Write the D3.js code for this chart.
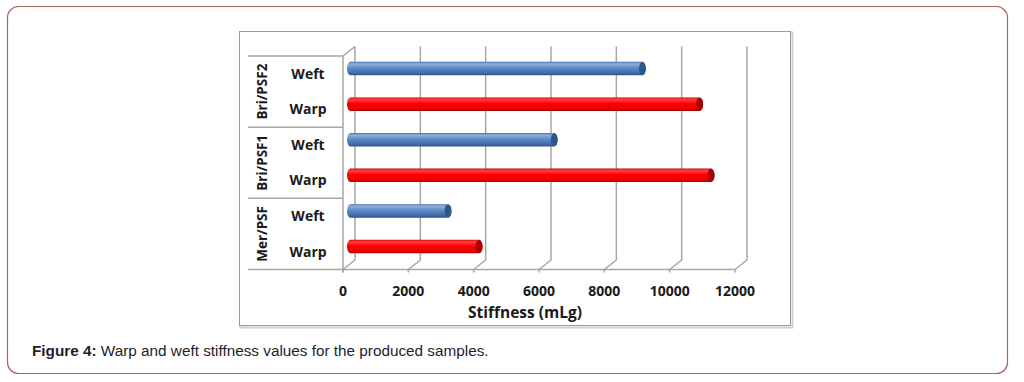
<!DOCTYPE html>
<html><head><meta charset="utf-8">
<script src="https://cdn.jsdelivr.net/npm/d3@7"></script>
<style>body{margin:0;background:#fff}svg{display:block}</style>
</head><body>
<svg id="c" width="1024" height="382"></svg>
<script>
const groups = ["Bri/PSF2", "Bri/PSF1", "Mer/PSF"];
const subs = ["Weft", "Warp"];
const weftValues = [9150, 6450, 3200];
const warpValues = [10900, 11250, 4150];
const xTicks = [0, 2000, 4000, 6000, 8000, 10000, 12000];
const xTitle = "Stiffness (mLg)";

(function () {
const rows = [];
groups.forEach((g, i) => {
  rows.push({group: g, sub: "Weft", value: weftValues[i], key: g + "|Weft"});
  rows.push({group: g, sub: "Warp", value: warpValues[i], key: g + "|Warp"});
});

const svg = d3.select("#c");
const defs = svg.append("defs");
function grad(id, stops) {
  const lg = defs.append("linearGradient").attr("id", id).attr("x1", 0).attr("y1", 0).attr("x2", 0).attr("y2", 1);
  stops.forEach(s => lg.append("stop").attr("offset", s[0]).attr("stop-color", s[1]));
}
grad("gBlue", [[0, "#3f6ea8"], [0.15, "#8fb2e0"], [0.45, "#5b8cc8"], [0.8, "#426fa9"], [1, "#2c5284"]]);
grad("gRed", [[0, "#d00000"], [0.15, "#ff4040"], [0.45, "#ff0000"], [0.8, "#f00000"], [1, "#a80000"]]);
const capCol = {Weft: "#2e5789", Warp: "#a80000"};
const fillCol = {Weft: "url(#gBlue)", Warp: "url(#gRed)"};

// outer frame
svg.append("rect").attr("x", 7.5).attr("y", 6.5).attr("width", 1000).attr("height", 367)
  .attr("rx", 11).attr("fill", "none").attr("stroke", "#a8665a").attr("stroke-width", 1.2);

// chart box
svg.append("rect").attr("x", 240.5).attr("y", 32.5).attr("width", 552).attr("height", 295)
  .attr("fill", "none").attr("stroke", "#d0d0d0").attr("stroke-width", 2);
svg.append("rect").attr("x", 239.5).attr("y", 31.5).attr("width", 551).attr("height", 294)
  .attr("fill", "#fff").attr("stroke", "#9a9a9a").attr("stroke-width", 1);

const dx = 12, dy = -9.5;
const yTop = 56, yBottom = 269.5;
const xFront = d3.scaleLinear().domain([0, 12000]).range([343, 735]);
const xBack = v => xFront(v) + dx;
const xMid = v => xFront(v) + dx / 2;
const y = d3.scaleBand().domain(rows.map(r => r.key)).range([yTop, yBottom]);

const grid = svg.append("g").attr("stroke", "#a6a6a6").attr("stroke-width", 1.5).attr("fill", "none");
xTicks.forEach(t => {
  grid.append("path").attr("d", `M${xBack(t)},${yTop + dy} V${yBottom + dy} L${xFront(t)},${yBottom} v3`);
});
grid.append("path").attr("d", `M${xFront(0)},${yTop} L${xBack(0)},${yTop + dy}`);
grid.append("path").attr("d", `M${xFront(0)},${yTop} V${yBottom + 3}`);
const axisLeft = 248;
grid.append("path").attr("d", `M${axisLeft},${yBottom} H${xFront(12000)}`);
grid.append("path").attr("d", `M${axisLeft},${yTop} H${xFront(0)}`);
groups.forEach((g, i) => {
  if (i === 0) return;
  const yy = y(g + "|Weft");
  grid.append("path").attr("d", `M${axisLeft},${yy} H${xFront(0)}`);
});

// bars
const bh = 13.5, r = 3.5;
const bars = svg.append("g");
rows.forEach(d => {
  const cy = y(d.key) + y.bandwidth() / 2 + dy / 2 - 0.5;
  const x0 = xMid(0) - 2, x1 = xMid(d.value) - 2;
  bars.append("rect").attr("x", x0).attr("y", cy - bh / 2).attr("width", x1 - x0).attr("height", bh)
    .attr("rx", r).attr("ry", bh / 2).attr("fill", fillCol[d.sub]);
  bars.append("ellipse").attr("cx", x1 - r).attr("cy", cy).attr("rx", r).attr("ry", bh / 2 - 0.3)
    .attr("fill", capCol[d.sub]);
});

const font = "'Open Sans', 'Noto Sans', sans-serif";
svg.append("g").selectAll("text").data(rows).join("text")
  .attr("x", 308).attr("y", d => y(d.key) + y.bandwidth() / 2)
  .attr("dy", "0.35em").attr("text-anchor", "middle")
  .attr("font-family", font).attr("font-weight", "bold").attr("font-size", 14).attr("fill", "#1a1a1a")
  .text(d => d.sub);
svg.append("g").selectAll("text").data(groups).join("text")
  .attr("transform", g => `translate(262,${y(g + "|Weft") + y.bandwidth()}) rotate(-90)`)
  .attr("dy", "0.35em").attr("text-anchor", "middle")
  .attr("font-family", font).attr("font-weight", "bold").attr("font-size", 13.5).attr("fill", "#1a1a1a")
  .text(g => g);

svg.append("g").selectAll("text").data(xTicks).join("text")
  .attr("x", t => xFront(t)).attr("y", 291).attr("dy", "0.35em").attr("text-anchor", "middle")
  .attr("font-family", font).attr("font-weight", "bold").attr("font-size", 14).attr("fill", "#1a1a1a")
  .text(t => t);
svg.append("text").attr("x", 525).attr("y", 313).attr("dy", "0.35em").attr("text-anchor", "middle")
  .attr("font-family", font).attr("font-weight", "bold").attr("font-size", 15.5).attr("fill", "#1a1a1a")
  .text(xTitle);

const cap = svg.append("text").attr("x", 32).attr("y", 356)
  .attr("font-family", "'Liberation Sans', Arial, sans-serif").attr("font-size", 15.3).attr("fill", "#1e1e2a");
cap.append("tspan").attr("font-weight", "bold").text("Figure 4:");
cap.append("tspan").text(" Warp and weft stiffness values for the produced samples.");
})();
</script>
</body></html>
